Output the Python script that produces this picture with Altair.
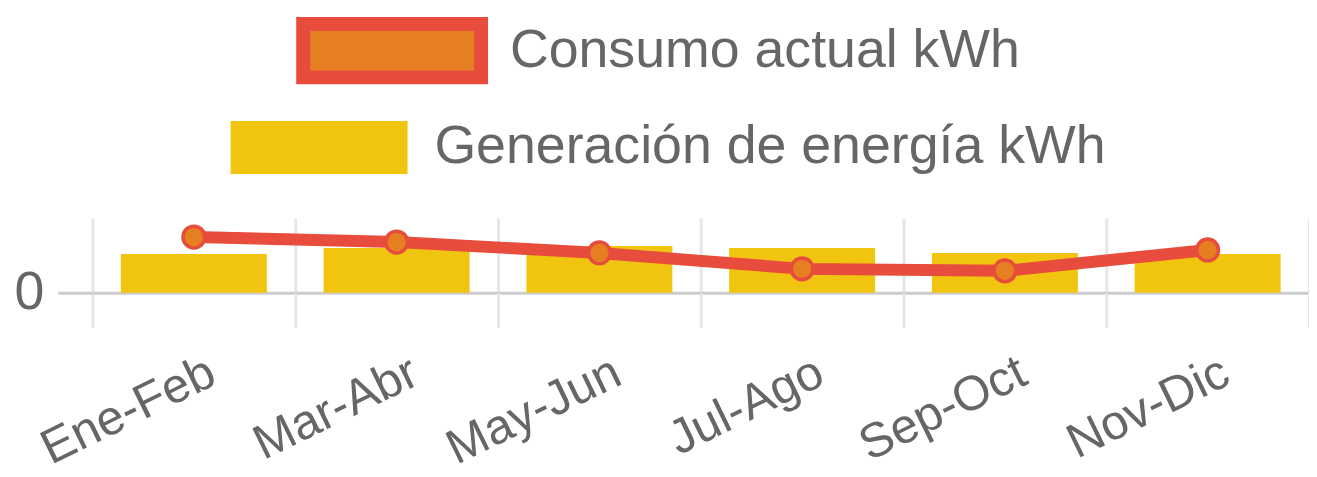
import altair as alt
import pandas as pd

periodos = ["Ene-Feb", "Mar-Abr", "May-Jun", "Jul-Ago", "Sep-Oct", "Nov-Dic"]
consumo = [1120, 1020, 800, 480, 440, 860]
generacion = [780, 900, 940, 900, 800, 780]
serie_consumo = "Consumo actual kWh"
serie_generacion = "Generación de energía kWh"

df = pd.DataFrame({
    "periodo": periodos,
    "consumo": consumo,
    "generacion": generacion,
    "s_c": [serie_consumo] * len(periodos),
    "s_g": [serie_generacion] * len(periodos),
})

FONT = "Liberation Sans"
TXT = "#666666"
RECT = "M-1,-0.3H1V0.3H-1Z"
RED = "#E74C3C"
ORANGE = "#E67E22"
YELLOW = "#F1C40F"

x_axis = alt.Axis(
    title=None, tickBand="extent", grid=True, gridColor="#e6e6e6", gridWidth=3,
    ticks=True, tickSize=35, tickColor="#e6e6e6", tickWidth=3, domain=False,
    labelAngle=-26, labelAlign="right", labelBaseline="middle", labelFontSize=49,
    labelFont=FONT, labelColor=TXT, labelPadding=42, labelOffset=18, labelLimit=500,
)
x = alt.X("periodo:N", sort=periodos,
          scale=alt.Scale(paddingInner=0, paddingOuter=0), axis=x_axis)

y_axis = alt.Axis(
    title=None, values=[0], grid=True, gridColor="#cccccc", gridWidth=3,
    ticks=True, tickSize=35, tickColor="#cccccc", tickWidth=3, domain=False,
    labelFontSize=54, labelFont=FONT, labelColor=TXT, labelPadding=14,
)
y_scale = alt.Scale(domain=[0, 1500], nice=False)

bars = alt.Chart(df).mark_bar(width=alt.RelativeBandSize(0.72)).encode(
    x=x,
    y=alt.Y("generacion:Q", scale=y_scale, axis=y_axis),
    color=alt.Color(
        "s_g:N",
        scale=alt.Scale(domain=[serie_generacion], range=[YELLOW]),
        legend=alt.Legend(
            title=None, orient="none", legendX=139, legendY=-160,
            symbolType=RECT, symbolSize=31684, symbolStrokeWidth=0,
            symbolOpacity=1,
            labelOffset=27, labelFontSize=54, labelFont=FONT, labelColor=TXT,
            labelLimit=1000,
        ),
    ),
)

stroke_legend = alt.Legend(
    title=None, orient="none", legendX=205, legendY=-265,
    symbolType=RECT, symbolSize=32041, symbolStrokeWidth=14,
    symbolFillColor=ORANGE, symbolStrokeColor=RED, symbolOpacity=1,
    labelOffset=22, labelFontSize=54, labelFont=FONT, labelColor=TXT,
    labelLimit=1000,
)
stroke_scale = alt.Scale(domain=[serie_consumo], range=[RED])

line = alt.Chart(df).mark_line(strokeWidth=12).encode(
    x=x,
    y=alt.Y("consumo:Q", scale=y_scale, axis=y_axis),
    stroke=alt.Stroke("s_c:N", scale=stroke_scale, legend=stroke_legend),
)

points = alt.Chart(df).mark_point(
    shape="circle", filled=True, fill=ORANGE, size=480, strokeWidth=3.5, opacity=1
).encode(
    x=x,
    y=alt.Y("consumo:Q", scale=y_scale, axis=y_axis),
    stroke=alt.Stroke("s_c:N", scale=stroke_scale, legend=stroke_legend),
)

chart = alt.layer(bars, line, points).properties(
    width=1224, height=75,
    autosize=alt.AutoSizeParams(type="none"),
    padding={"left": 85, "top": 210, "right": 0, "bottom": 184},
    background="white",
).configure_view(stroke=None)

chart.save("out.html", embed_options={"renderer": "svg", "actions": False})
